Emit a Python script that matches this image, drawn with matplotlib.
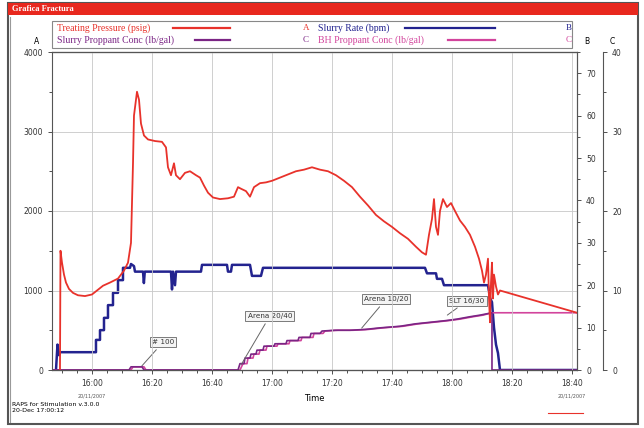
import matplotlib
matplotlib.use("Agg")
import matplotlib.pyplot as plt
from matplotlib.patches import Rectangle
from matplotlib.lines import Line2D
from matplotlib.ticker import MultipleLocator

# time in minutes after 16:00
t_press = [-10.67, -10.5, -10, -9.33, -8.67, -7.67, -6.33, -4.67, -2.33, 0, 1.67, 3.67, 6, 8.67,
           10.67, 12, 13, 13.67, 14, 14.5, 15, 15.67, 16.33, 17.33, 18.67, 21, 23.33, 24.67,
           25.33, 26.33, 27.33, 28, 29.33, 31, 32.67, 34.67, 36, 37.33, 38.67, 40.33, 42.67,
           45.33, 47.33, 48.67, 49.67, 51.33, 52.67, 54, 56, 58, 60, 62.67, 65.33, 68, 70.67,
           73.33, 76, 78.67, 81.33, 84, 86.67, 89.33, 92, 94.67, 97.33, 100, 102.67, 105.33,
           108, 110, 111.33, 112.33, 113.33, 114, 114.67, 115.33, 116, 117, 118.33, 119.67,
           121, 122.67, 124.33, 126, 127.67, 129, 130, 130.67, 131.33, 132, 132.33, 132.67,
           133, 133.33, 133.67, 134, 134.67, 135.33, 136, 161.67]
pressure = [0, 1500, 1350, 1200, 1100, 1020, 970, 940, 930, 950, 1000, 1060, 1100, 1150,
            1250, 1350, 1600, 2600, 3200, 3350, 3500, 3400, 3100, 2950, 2900, 2880, 2870, 2800,
            2550, 2450, 2600, 2450, 2400, 2480, 2500, 2450, 2420, 2320, 2230, 2170, 2150,
            2160, 2180, 2300, 2280, 2250, 2180, 2300, 2350, 2360, 2380, 2420, 2460, 2500, 2520,
            2550, 2520, 2500, 2450, 2380, 2300, 2180, 2070, 1950, 1870, 1800, 1720, 1650,
            1550, 1480, 1450, 1700, 1900, 2150, 1800, 1700, 2000, 2150, 2050, 2100,
            2000, 1880, 1800, 1700, 1550, 1400, 1250, 1100, 1200, 1400, 900, 600,
            1100, 1350, 900, 1200, 1050, 950, 1000, 720]

t_rate = [-12, -11.5, -11, -10.67, 1.33, 1.33, 2.67, 2.67, 4, 4, 5.33, 5.33, 7, 7, 8.67, 8.67,
          10.33, 10.33, 12.67, 13, 14, 14.33, 17, 17.3, 17.6, 26.33, 26.67, 27, 27.67, 28,
          36.33, 36.67, 45, 45.33, 46.33, 46.67, 52.67, 53.33, 56.33, 57, 111, 111.67, 114.67,
          115, 116.67, 117.33, 132, 132.67, 133.33, 134, 134.67, 135.33, 136, 161.67]
slurry_rate = [0, 6, 3.5, 4.2, 4.2, 7.1, 7.1, 9.4, 9.4, 12.3, 12.3, 15.3, 15.3, 18.2, 18.2,
               21.2, 21.2, 24.1, 24.1, 25, 24.5, 23.2, 23.2, 20.5, 23.2, 23.2, 19, 23.2, 20,
               23.2, 23.2, 24.8, 24.8, 23.2, 23.2, 24.8, 24.8, 22.2, 22.2, 24.1, 24.1, 22.8,
               22.8, 21.5, 21.5, 20, 20, 17, 16, 10, 6, 4, 0, 0]

t_conc = [-13, 12.33, 13, 16.67, 17.33, 48.67, 49.33, 50.67, 51, 52.67, 53, 54.67, 55, 57,
          57.33, 60.67, 61, 64.67, 65, 68.67, 69, 72.67, 73, 76, 76.67, 81, 86, 91, 96,
          102.67, 107.67, 112.67, 117.67, 121.67, 126, 129.33, 133.33, 133.33, 161.67]
slurry_conc = [0, 0, 0.4, 0.4, 0, 0, 0.8, 0.8, 1.5, 1.5, 2.0, 2.0, 2.5, 2.5, 3.0, 3.0, 3.3,
               3.3, 3.7, 3.7, 4.1, 4.1, 4.6, 4.6, 4.9, 5.0, 5.0, 5.1, 5.3, 5.5, 5.8, 6.0, 6.2,
               6.4, 6.7, 6.9, 7.2, 0, 0]

t_bh = [-13, 13, 13.67, 17.33, 18, 49.33, 50.33, 51.67, 52, 53.67, 54, 55.67, 56, 58,
        58.33, 61.67, 62, 65.67, 66, 69.67, 70, 73.67, 74, 77, 77.67, 82, 87, 92, 97,
        103.67, 108.67, 113.67, 118.67, 122.67, 127, 130.33, 133.33, 161.67]
bh_conc = [0, 0, 0.4, 0.4, 0, 0, 0.8, 0.8, 1.5, 1.5, 2.0, 2.0, 2.5, 2.5, 3.0, 3.0, 3.3,
           3.3, 3.7, 3.7, 4.1, 4.1, 4.6, 4.6, 4.9, 5.0, 5.0, 5.1, 5.3, 5.5, 5.8, 6.0, 6.2,
           6.4, 6.7, 6.9, 7.2, 7.2]

tick_times = [0, 20, 40, 60, 80, 100, 120, 140, 160]
tick_labels = ["16:00", "16:20", "16:40", "17:00", "17:20", "17:40", "18:00", "18:20", "18:40"]

stages = ["# 100", "Arena 20/40", "Arena 10/20", "SLT 16/30"]
stage_pts = [(16, 0.25), (49.3, 0.4), (89.3, 5.0), (117.7, 6.7)]
stage_box = [(23.7, 3.5), (59.3, 6.8), (98, 8.9), (125, 8.7)]

RED = "#e8322b"
BLUE = "#23238f"
PURPLE = "#7b2585"
MAGENTA = "#d2449c"
W, H = 644, 428


def fx(x):
    return x / W


def fy(y):
    return 1 - y / H


fig = plt.figure(figsize=(6.44, 4.28), dpi=100)
fig.patch.set_facecolor("white")

# window frame and title bar (kept behind the axes)
fig.add_artist(Rectangle((fx(8), fy(424)), fx(630), 421 / H, transform=fig.transFigure,
                         facecolor="white", edgecolor="#555555", linewidth=1.5, zorder=-10))
fig.add_artist(Rectangle((fx(8), fy(15)), fx(630), 12 / H, transform=fig.transFigure,
                         facecolor="#e8281e", edgecolor="none", zorder=-9))
fig.text(fx(12), fy(9), "Grafica Fractura", color="white", fontsize=6, fontweight="bold",
         family="Liberation Serif", va="center")
fig.add_artist(Line2D([fx(10), fx(10)], [fy(17), fy(422)], color="#999999", lw=0.8, zorder=-9))

# legend panel
fig.add_artist(Rectangle((fx(52), fy(48)), fx(520), 27 / H, transform=fig.transFigure,
                         facecolor="white", edgecolor="#888888", linewidth=0.8, zorder=-9))
leg = [("Treating Pressure (psig)", RED, 57, 28, 173, 230, "A", 303),
       ("Slurry Proppant Conc (lb/gal)", PURPLE, 57, 40, 195, 230, "C", 303),
       ("Slurry Rate (bpm)", BLUE, 318, 28, 405, 495, "B", 566),
       ("BH Proppant Conc (lb/gal)", MAGENTA, 318, 40, 448, 495, "C", 566)]
for txt, col, x, y, l0, l1, letter, lx in leg:
    fig.text(fx(x), fy(y), txt, color=col, fontsize=7, family="Liberation Serif", va="center")
    fig.add_artist(Line2D([fx(l0), fx(l1)], [fy(y), fy(y)], color=col, lw=1.6))
    fig.text(fx(lx), fy(y), letter, color=BLUE if letter == "B" else col, fontsize=6.5,
             family="Liberation Serif", va="center")

ax = fig.add_axes([fx(52), fy(370), fx(525), 318 / H])
axb = ax.twinx()
axc = ax.twinx()
axc.spines["right"].set_position(("axes", 1 + 26 / 525))

ax.set_xlim(-13.33, 161.67)
ax.set_ylim(0, 4000)
axb.set_ylim(0, 75)
axc.set_ylim(0, 40)

ax.set_xticks(tick_times)
ax.set_xticklabels(tick_labels)
ax.xaxis.set_minor_locator(MultipleLocator(5))
ax.yaxis.set_major_locator(MultipleLocator(1000))
ax.yaxis.set_minor_locator(MultipleLocator(500))
axb.yaxis.set_major_locator(MultipleLocator(10))
axb.yaxis.set_minor_locator(MultipleLocator(5))
axc.yaxis.set_major_locator(MultipleLocator(10))
axc.yaxis.set_minor_locator(MultipleLocator(5))
ax.grid(True, which="major", color="#c8c8c8", lw=0.6)

for a in (ax, axb, axc):
    a.tick_params(which="both", labelsize=5.5, colors="#333333", length=3, width=0.6)
    a.tick_params(which="minor", length=2)
    for s in a.spines.values():
        s.set_color("#555555")
        s.set_linewidth(0.8)
axc.spines["left"].set_visible(False)
axb.spines["left"].set_visible(False)

axb.plot(t_rate, slurry_rate, color=BLUE, lw=1.8)
axc.plot(t_bh, bh_conc, color=MAGENTA, lw=1.2)
axc.plot(t_conc, slurry_conc, color=PURPLE, lw=1.2)
ax.set_zorder(3)
ax.patch.set_visible(False)
ax.plot(t_press, pressure, color=RED, lw=1.3)

for name, pt, box in zip(stages, stage_pts, stage_box):
    axc.annotate(name, xy=pt, xytext=box, fontsize=5.2, ha="center", va="center",
                 color="#333333",
                 bbox=dict(boxstyle="square,pad=0.3", fc="#f4f4f4", ec="#666666", lw=0.6),
                 arrowprops=dict(arrowstyle="-", color="#666666", lw=0.7))

ax.set_xlabel("Time", fontsize=6, labelpad=4)
for t in (0, 160):
    ax.text(t, -0.075, "20/11/2007", transform=ax.get_xaxis_transform(), fontsize=3.5,
            ha="center", va="top", color="#555555")

fig.text(fx(37), fy(42), "A", fontsize=5.5, ha="center", va="center")
fig.text(fx(587), fy(42), "B", fontsize=5.5, ha="center", va="center")
fig.text(fx(612), fy(42), "C", fontsize=5.5, ha="center", va="center")

fig.text(fx(12), fy(404), "RAPS for Stimulation v.3.0.0", fontsize=4.5, va="center")
fig.text(fx(12), fy(411), "20-Dec 17:00:12", fontsize=4.5, va="center")
fig.add_artist(Line2D([fx(548), fx(583)], [fy(413), fy(413)], color=RED, lw=0.8))

fig.savefig("out.png", dpi=100)
